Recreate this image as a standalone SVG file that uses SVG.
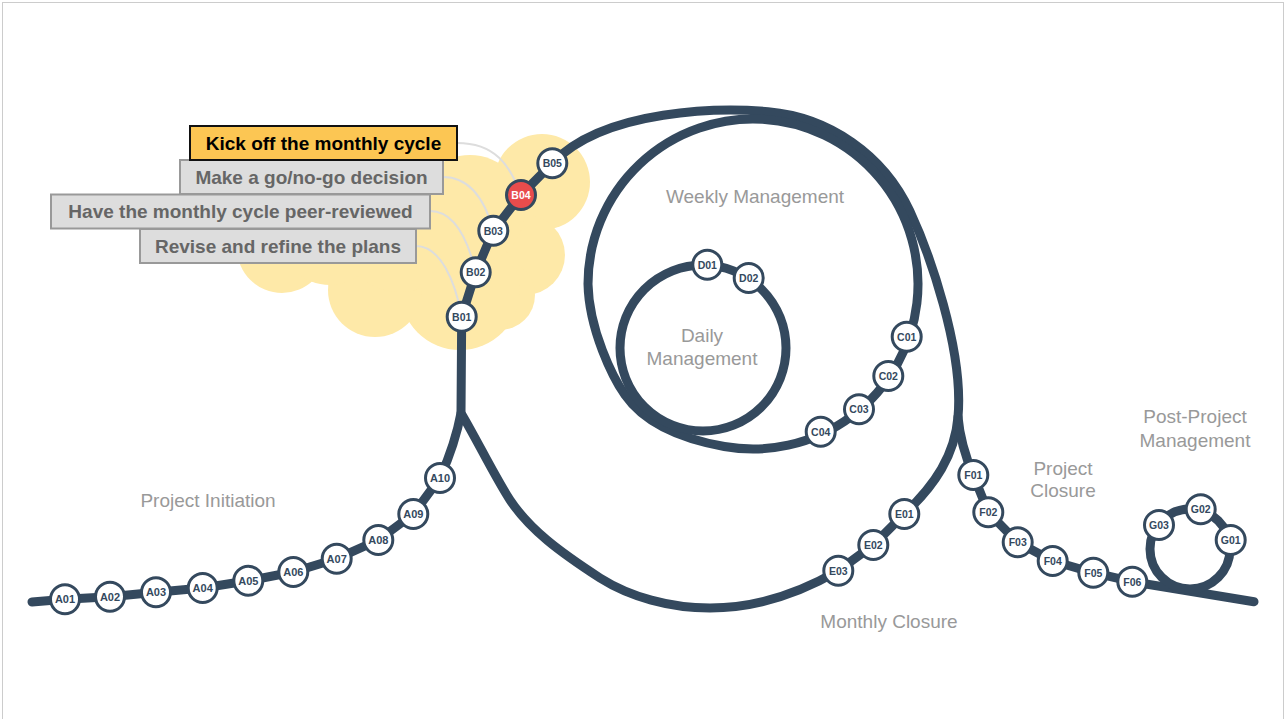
<svg xmlns="http://www.w3.org/2000/svg" width="1287" height="719" viewBox="0 0 1287 719">
<style>
.track{fill:none;stroke:#34495e;stroke-width:9;stroke-linecap:round;stroke-linejoin:round}
.leader{fill:none;stroke:#dddddd;stroke-width:2}
.st circle{fill:#ffffff;stroke:#34495e;stroke-width:3}
.st text{font-family:"Liberation Sans",Arial,sans-serif;font-weight:bold;font-size:10.5px;fill:#34495e;text-anchor:middle}
.st.a text{font-size:11px}
.st.hl circle{fill:#e84c4c}
.st.hl text{fill:#ffffff}
.phase{font-family:"Liberation Sans",Arial,sans-serif;font-size:19px;fill:#999999;text-anchor:middle}
.box rect{fill:#dddddd;stroke:#999999;stroke-width:2}
.box text{font-family:"Liberation Sans",Arial,sans-serif;font-weight:bold;font-size:19px;fill:#666666;text-anchor:middle}
.box.on rect{fill:#fcc653;stroke:#111111}
.box.on text{fill:#000000}
.cloud circle{fill:#fee9a8}
</style>
<rect x="2.5" y="2.5" width="1281" height="740" fill="#ffffff" stroke="#cccccc" stroke-width="1"/>
<g id="cloud" class="cloud">
<circle cx="542" cy="182" r="48"/>
<circle cx="525" cy="255" r="40"/>
<circle cx="500" cy="295" r="35"/>
<circle cx="460" cy="290" r="60"/>
<circle cx="375" cy="290" r="47"/>
<circle cx="282" cy="248" r="45"/>
<circle cx="400" cy="232" r="60"/>
<circle cx="470" cy="210" r="55"/>
<circle cx="330" cy="235" r="50"/>
</g>
<g id="connectors">
<path class="leader" d="M457 143 C495 143 510 165 521 195"/>
<path class="leader" d="M443 177 C470 177 485 200 493.3 230.7"/>
<path class="leader" d="M430 211 C455 211 468 240 475.7 272.3"/>
<path class="leader" d="M416 246 C440 246 455 280 461.7 316.7"/>
<path class="track" d="M32 602 L65 599.3 L110 596.7 L156 592.3 L202.7 588 L248.3 580.7 L293.3 572 L336.7 558.7 L378.3 540 L413.3 514 L440 478 C448 460 456 440 461 413"/>
<path class="track" d="M461 413 L461.7 316.7 L475.7 272.3 L493.3 230.7 L521 195 L552.3 163.3 C605 108 723.3 107.8 768.1 111.7 A173 173 0 0 1 909.8 210.9 C928.8 251.7 964 350 958 417 C955 455 935 485 904.3 514 L873.3 545 L838.3 570.7 C805 590 760 608 710 608 C670 608 630 597 600 578 C560 552 530 530 510 500 C495 477 477 440 461 413"/>
<path class="track" d="M588 284 A165 165 0 1 1 724.3 446.5 C689.8 440.4 648 428 625 395 C613 378 589 330 588 284 Z"/>
<circle class="track" cx="703" cy="348" r="83"/>
<path class="track" d="M958 417 C960 440 966 458 973.3 475 L988.3 512.3 L1017.7 542.3 L1052.7 561 L1093.3 572.7 L1132.3 581.7 L1254 601.7"/>
<circle class="track" cx="1190" cy="549" r="40"/>
</g>
<g id="node-A01" class="st a"><circle cx="65" cy="599.3" r="14.5"/><text x="65" y="603.3">A01</text></g>
<g id="node-A02" class="st a"><circle cx="110" cy="596.7" r="14.5"/><text x="110" y="600.7">A02</text></g>
<g id="node-A03" class="st a"><circle cx="156" cy="592.3" r="14.5"/><text x="156" y="596.3">A03</text></g>
<g id="node-A04" class="st a"><circle cx="202.7" cy="588" r="14.5"/><text x="202.7" y="592">A04</text></g>
<g id="node-A05" class="st a"><circle cx="248.3" cy="580.7" r="14.5"/><text x="248.3" y="584.7">A05</text></g>
<g id="node-A06" class="st a"><circle cx="293.3" cy="572" r="14.5"/><text x="293.3" y="576">A06</text></g>
<g id="node-A07" class="st a"><circle cx="336.7" cy="558.7" r="14.5"/><text x="336.7" y="562.7">A07</text></g>
<g id="node-A08" class="st a"><circle cx="378.3" cy="540" r="14.5"/><text x="378.3" y="544">A08</text></g>
<g id="node-A09" class="st a"><circle cx="413.3" cy="514" r="14.5"/><text x="413.3" y="518">A09</text></g>
<g id="node-A10" class="st a"><circle cx="440" cy="478" r="14.5"/><text x="440" y="482">A10</text></g>
<g id="node-B01" class="st"><circle cx="461.7" cy="316.7" r="14.5"/><text x="461.7" y="320.5">B01</text></g>
<g id="node-B02" class="st"><circle cx="475.7" cy="272.3" r="14.5"/><text x="475.7" y="276.1">B02</text></g>
<g id="node-B03" class="st"><circle cx="493.3" cy="230.7" r="14.5"/><text x="493.3" y="234.5">B03</text></g>
<g id="node-B04" class="st hl"><circle cx="521" cy="195" r="14.5"/><text x="521" y="198.8">B04</text></g>
<g id="node-B05" class="st"><circle cx="552.3" cy="163.3" r="14.5"/><text x="552.3" y="167.1">B05</text></g>
<g id="node-C01" class="st"><circle cx="906.7" cy="336.7" r="14.5"/><text x="906.7" y="340.5">C01</text></g>
<g id="node-C02" class="st"><circle cx="888.3" cy="376" r="14.5"/><text x="888.3" y="379.8">C02</text></g>
<g id="node-C03" class="st"><circle cx="859" cy="409.3" r="14.5"/><text x="859" y="413.1">C03</text></g>
<g id="node-C04" class="st"><circle cx="820.7" cy="431.7" r="14.5"/><text x="820.7" y="435.5">C04</text></g>
<g id="node-D01" class="st"><circle cx="707.3" cy="264.7" r="14.5"/><text x="707.3" y="268.5">D01</text></g>
<g id="node-D02" class="st"><circle cx="748.7" cy="278" r="14.5"/><text x="748.7" y="281.8">D02</text></g>
<g id="node-E01" class="st"><circle cx="904.3" cy="514" r="14.5"/><text x="904.3" y="517.8">E01</text></g>
<g id="node-E02" class="st"><circle cx="873.3" cy="545" r="14.5"/><text x="873.3" y="548.8">E02</text></g>
<g id="node-E03" class="st"><circle cx="838.3" cy="570.7" r="14.5"/><text x="838.3" y="574.5">E03</text></g>
<g id="node-F01" class="st"><circle cx="973.3" cy="475" r="14.5"/><text x="973.3" y="478.8">F01</text></g>
<g id="node-F02" class="st"><circle cx="988.3" cy="512.3" r="14.5"/><text x="988.3" y="516.1">F02</text></g>
<g id="node-F03" class="st"><circle cx="1017.7" cy="542.3" r="14.5"/><text x="1017.7" y="546.1">F03</text></g>
<g id="node-F04" class="st"><circle cx="1052.7" cy="561" r="14.5"/><text x="1052.7" y="564.8">F04</text></g>
<g id="node-F05" class="st"><circle cx="1093.3" cy="572.7" r="14.5"/><text x="1093.3" y="576.5">F05</text></g>
<g id="node-F06" class="st"><circle cx="1132.3" cy="581.7" r="14.5"/><text x="1132.3" y="585.5">F06</text></g>
<g id="node-G01" class="st"><circle cx="1230.7" cy="540" r="14.5"/><text x="1230.7" y="543.8">G01</text></g>
<g id="node-G02" class="st"><circle cx="1200.7" cy="509.3" r="14.5"/><text x="1200.7" y="513.1">G02</text></g>
<g id="node-G03" class="st"><circle cx="1159" cy="525" r="14.5"/><text x="1159" y="528.8">G03</text></g>
<g id="phase-labels">
<text class="phase" x="208" y="507">Project Initiation</text>
<text class="phase" x="755" y="203">Weekly Management</text>
<text class="phase" x="702" y="342">Daily</text>
<text class="phase" x="702" y="365">Management</text>
<text class="phase" x="889" y="628">Monthly Closure</text>
<text class="phase" x="1063" y="475">Project</text>
<text class="phase" x="1063" y="497">Closure</text>
<text class="phase" x="1195" y="423">Post-Project</text>
<text class="phase" x="1195" y="447">Management</text>
</g>
<g id="box-revise" class="box"><rect x="140" y="229" width="276" height="34"/><text x="278" y="252.7">Revise and refine the plans</text></g>
<g id="box-peer" class="box"><rect x="51" y="194.5" width="379" height="34"/><text x="240.5" y="218">Have the monthly cycle peer-reviewed</text></g>
<g id="box-gonogo" class="box"><rect x="180" y="160" width="263" height="34"/><text x="311.5" y="183.7">Make a go/no-go decision</text></g>
<g id="box-kickoff" class="box on"><rect x="190" y="126" width="267" height="34"/><text x="323.5" y="149.7">Kick off the monthly cycle</text></g>
</svg>
